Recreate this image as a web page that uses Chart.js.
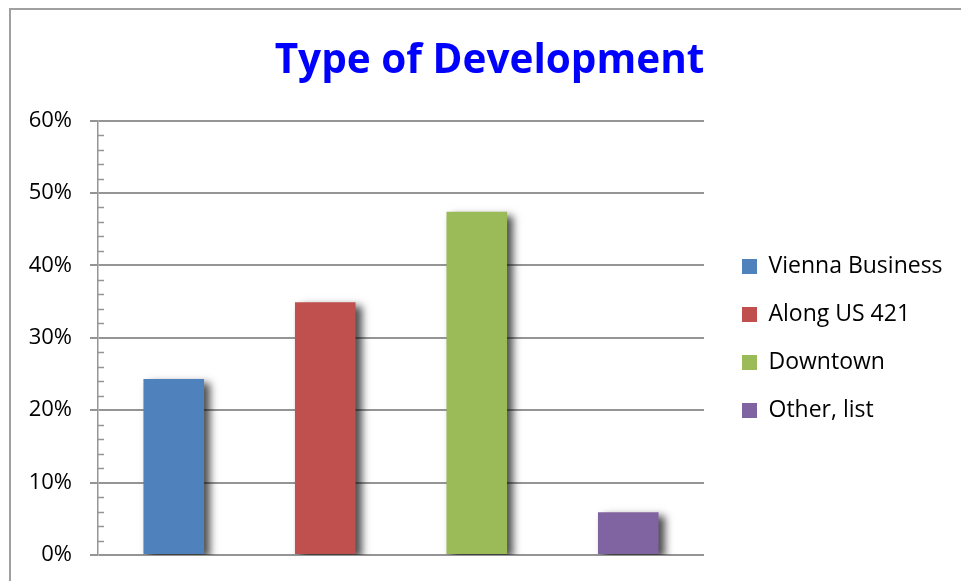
<!DOCTYPE html>
<html lang="en">
<head>
    <meta charset="UTF-8">
    <title>Type of Development</title>
    <script src="https://cdn.jsdelivr.net/npm/chart.js"></script>
    <style>
        body {
            margin: 0;
            padding: 0;
            background-color: #ffffff;
            overflow: hidden;
        }
        .frame {
            position: absolute;
            left: 9px;
            top: 8px;
            width: 1000px;
            height: 700px;
            border: 2px solid #a0a0a0;
            box-sizing: border-box;
        }
        .chart-container {
            position: absolute;
            left: 0;
            top: 0;
            width: 961px;
            height: 581px;
        }
    </style>
</head>
<body>
    <div class="frame"></div>
    <div class="chart-container">
        <canvas id="devChart"></canvas>
    </div>

    <script>
        // data
        const categories = ["Vienna Business", "Along US 421", "Downtown", "Other, list"];
        const shares = [24.3, 34.9, 47.4, 5.9];
        const barColors = ["#4f81bd", "#c0504d", "#9bbb59", "#8064a2"];
        const yTicks = [0, 10, 20, 30, 40, 50, 60];
        const minorStep = 2;

        const fontName = "'Open Sans', sans-serif";
        const gridGray = "#959595";

        // shadow behind the bars
        const barShadow = {
            id: "barShadow",
            beforeDatasetsDraw(chart) {
                const ctx = chart.ctx;
                ctx.save();
                ctx.shadowColor = "rgba(0,0,0,0.7)";
                ctx.shadowOffsetX = 6;
                ctx.shadowOffsetY = 4;
                ctx.shadowBlur = 8;
            },
            afterDatasetsDraw(chart) {
                chart.ctx.restore();
            }
        };

        // small inside tick marks between the major ones
        const minorTicks = {
            id: "minorTicks",
            afterDraw(chart) {
                const y = chart.scales.y;
                const ctx = chart.ctx;
                const x0 = y.right;
                ctx.save();
                ctx.strokeStyle = gridGray;
                ctx.lineWidth = 1.5;
                for (let v = y.min; v <= y.max; v += minorStep) {
                    if (yTicks.includes(v)) continue;
                    const py = Math.round(y.getPixelForValue(v)) + 0.5;
                    ctx.beginPath();
                    ctx.moveTo(x0, py);
                    ctx.lineTo(x0 + 6, py);
                    ctx.stroke();
                }
                ctx.restore();
            }
        };

        // nudge a box when it is drawn
        function shiftDraw(chart, box, dx, dy) {
            const draw = box.draw;
            box.draw = function () {
                chart.ctx.save();
                chart.ctx.translate(dx, dy);
                draw.call(this);
                chart.ctx.restore();
            };
        }

        // legend further from the plot and down to the middle, title a bit right
        const boxShift = {
            id: "boxShift",
            afterInit(chart) {
                const lg = chart.legend;
                const fit = lg.fit;
                lg.fit = function () {
                    fit.call(this);
                    this.width = 257;
                };
                shiftDraw(chart, lg, 13, 61);
                shiftDraw(chart, chart.titleBlock, 9, 0);
            }
        };

        const ctx = document.getElementById("devChart").getContext("2d");
        const chart = new Chart(ctx, {
            type: "bar",
            data: {
                labels: categories,
                datasets: [{
                    label: "Type of Development",
                    data: shares,
                    backgroundColor: barColors,
                    borderWidth: 0,
                    barPercentage: 0.4,
                    categoryPercentage: 1.0
                }]
            },
            options: {
                responsive: true,
                maintainAspectRatio: false,
                animation: false,
                layout: {
                    padding: { top: 0, right: 0, bottom: 26, left: 0 }
                },
                plugins: {
                    title: {
                        display: true,
                        text: "Type of Development",
                        color: "#0000ff",
                        font: { family: fontName, size: 40.5, weight: "bold", lineHeight: 1.2 },
                        padding: { top: 37, bottom: 35 }
                    },
                    legend: {
                        position: "right",
                        onClick: null,
                        labels: {
                            color: "#000",
                            font: { family: fontName, size: 23 },
                            boxWidth: 15,
                            boxHeight: 15,
                            padding: 25,
                            generateLabels: () => categories.map((c, i) => ({
                                text: c,
                                fillStyle: barColors[i],
                                strokeStyle: barColors[i],
                                lineWidth: 0,
                                hidden: false,
                                index: i
                            }))
                        }
                    },
                    tooltip: { enabled: false }
                },
                scales: {
                    x: {
                        display: false
                    },
                    y: {
                        min: 0,
                        max: 60,
                        afterFit(scale) {
                            scale.width = 98;
                            scale.paddingTop = 0;
                            scale.paddingBottom = 0;
                        },
                        afterBuildTicks(scale) {
                            scale.ticks = yTicks.map(v => ({ value: v }));
                        },
                        ticks: {
                            color: "#000",
                            font: { family: fontName, size: 22 },
                            padding: 18,
                            callback: v => v + "%"
                        },
                        grid: {
                            color: gridGray,
                            lineWidth: 2,
                            tickLength: 8
                        },
                        border: {
                            color: gridGray,
                            width: 1.5
                        }
                    }
                }
            },
            plugins: [barShadow, minorTicks, boxShift]
        });
    </script>
</body>
</html>
